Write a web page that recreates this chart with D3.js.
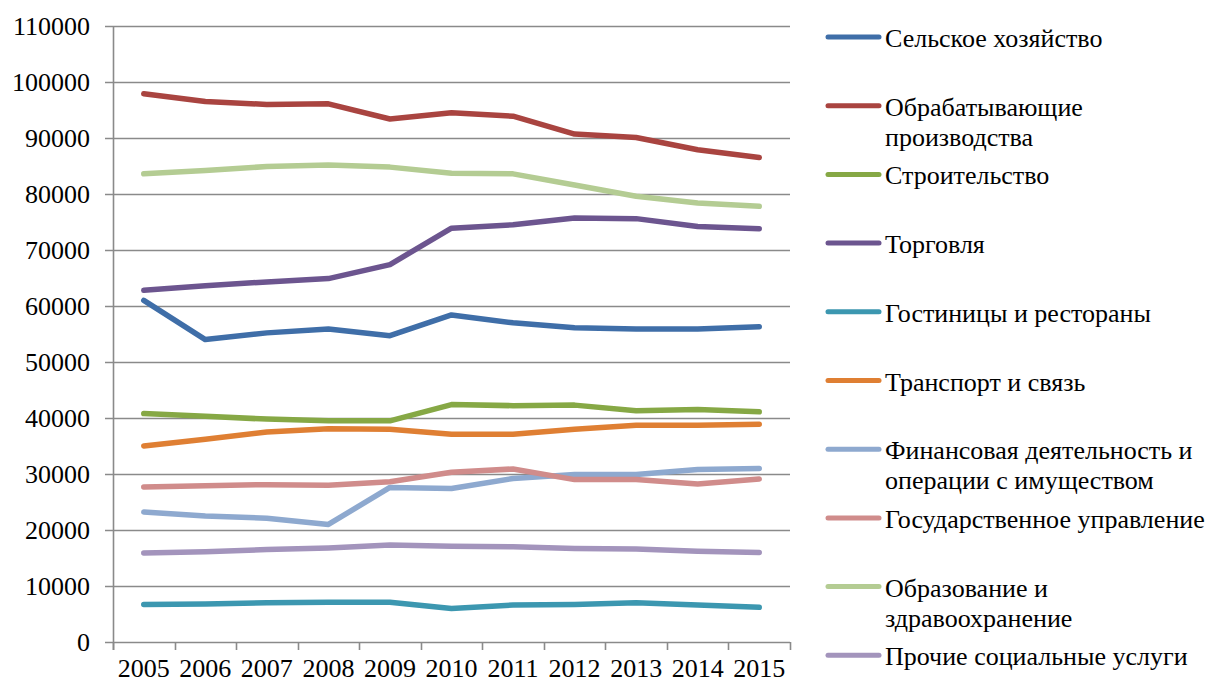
<!DOCTYPE html>
<html>
<head>
<meta charset="utf-8">
<script src="https://cdn.jsdelivr.net/npm/d3@7"></script>
<style>
  body { margin: 0; background: #fff; }
  svg text { font-family: "Liberation Serif", "DejaVu Serif", "Times New Roman", serif; fill: #000; }
</style>
</head>
<body>
<div id="chart"></div>
<script>
// years on the x axis
const years = ['2005','2006','2007','2008','2009','2010','2011','2012','2013','2014','2015'];
const yTicks = [0,10000,20000,30000,40000,50000,60000,70000,80000,90000,100000,110000];

// series names (legend), "\n" marks the legend line break
const seriesNames = [
  'Сельское хозяйство',
  'Обрабатывающие\nпроизводства',
  'Строительство',
  'Торговля',
  'Гостиницы и рестораны',
  'Транспорт и связь',
  'Финансовая деятельность и\nоперации с имуществом',
  'Государственное управление',
  'Образование и\nздравоохранение',
  'Прочие социальные услуги'
];

const agriculture  = [61000, 54000, 55200, 55900, 54700, 58400, 57000, 56100, 55900, 55900, 56300];
const manufacture  = [97900, 96500, 96000, 96100, 93400, 94500, 93900, 90700, 90100, 87900, 86500];
const construction = [40800, 40300, 39800, 39500, 39500, 42400, 42200, 42300, 41300, 41500, 41100];
const trade        = [62800, 63600, 64300, 64900, 67400, 73900, 74500, 75700, 75600, 74200, 73800];
const hotels       = [6700, 6800, 7000, 7100, 7100, 6000, 6600, 6700, 7000, 6600, 6200];
const transport    = [35000, 36200, 37500, 38100, 38000, 37100, 37100, 38000, 38700, 38700, 38900];
const finance      = [23200, 22500, 22100, 21000, 27600, 27400, 29200, 29900, 29900, 30800, 31000];
const government   = [27700, 27900, 28100, 28000, 28600, 30300, 30900, 29000, 29000, 28200, 29100];
const education    = [83600, 84200, 84900, 85200, 84800, 83700, 83600, 81600, 79600, 78400, 77800];
const otherSocial  = [15900, 16100, 16500, 16800, 17300, 17100, 17000, 16700, 16600, 16200, 16000];

const seriesValues = [agriculture, manufacture, construction, trade, hotels,
                      transport, finance, government, education, otherSocial];

const colors = ['#3f6ea8','#a94440','#86a845','#6c558f','#3c97b0',
                '#df7f33','#8ea9cf','#d08c8b','#b4cc93','#a394bc'];

const width = 1217, height = 684;
const plot = {left: 113, right: 790, top: 26, bottom: 642};
const serif = '"Liberation Serif", "DejaVu Serif", "Times New Roman", serif';

const svg = d3.select('#chart').append('svg')
  .attr('width', width)
  .attr('height', height)
  .style('font-family', serif);

const x = d3.scaleBand().domain(years).range([plot.left, plot.right]);
const y = d3.scaleLinear().domain([0, 110000]).range([plot.bottom, plot.top]);

// horizontal gridlines
svg.append('g').attr('class', 'grid')
  .selectAll('line')
  .data(yTicks)
  .join('line')
  .attr('x1', plot.left - 8)
  .attr('x2', plot.right)
  .attr('y1', d => Math.round(y(d)) + 0.5)
  .attr('y2', d => Math.round(y(d)) + 0.5)
  .attr('stroke', '#8a8a8a')
  .attr('stroke-width', 1.6);

// y axis
const yAxis = svg.append('g')
  .attr('transform', `translate(${plot.left},0)`)
  .call(d3.axisLeft(y).tickValues(yTicks).tickSize(0).tickPadding(23).tickFormat(d3.format('d')))
  .attr('font-family', serif)
  .attr('font-size', 26);
yAxis.select('.domain').remove();
yAxis.selectAll('text').attr('dy', '0.34em');

svg.append('line')
  .attr('x1', plot.left + 0.5).attr('x2', plot.left + 0.5)
  .attr('y1', plot.top).attr('y2', plot.bottom + 8)
  .attr('stroke', '#8a8a8a').attr('stroke-width', 1.6);

// x axis, labels centred, ticks between categories
const xAxis = svg.append('g')
  .attr('transform', `translate(0,${plot.bottom})`)
  .call(d3.axisBottom(x).tickSize(0).tickPadding(0))
  .attr('font-family', serif)
  .attr('font-size', 26);
xAxis.select('.domain').remove();
xAxis.selectAll('text')
  .attr('dy', null)
  .attr('y', 35);

const boundaries = years.map(d => x(d)).concat([x.range()[1]]);
svg.append('g')
  .selectAll('line')
  .data(boundaries)
  .join('line')
  .attr('x1', d => Math.round(d) + 0.5)
  .attr('x2', d => Math.round(d) + 0.5)
  .attr('y1', plot.bottom)
  .attr('y2', plot.bottom + 8)
  .attr('stroke', '#8a8a8a')
  .attr('stroke-width', 1.6);

// lines
const line = d3.line()
  .x((d, i) => x(years[i]) + x.bandwidth() / 2)
  .y(d => y(d));

svg.append('g')
  .selectAll('path')
  .data(seriesValues)
  .join('path')
  .attr('d', d => line(d))
  .attr('fill', 'none')
  .attr('stroke', (d, i) => colors[i])
  .attr('stroke-width', 5.5)
  .attr('stroke-linecap', 'round')
  .attr('stroke-linejoin', 'round');

// legend
const legendTop = 37, legendStep = 68.7;
const legend = svg.append('g')
  .selectAll('g')
  .data(seriesNames)
  .join('g')
  .attr('transform', (d, i) => `translate(0,${legendTop + i * legendStep})`);

legend.append('line')
  .attr('x1', 828).attr('x2', 879)
  .attr('y1', 0).attr('y2', 0)
  .attr('stroke', (d, i) => colors[i])
  .attr('stroke-width', 5)
  .attr('stroke-linecap', 'round');

legend.append('text')
  .attr('x', 885)
  .attr('y', 10)
  .attr('font-size', 26)
  .selectAll('tspan')
  .data(d => d.split('\n'))
  .join('tspan')
  .attr('x', 885)
  .attr('dy', (d, i) => i === 0 ? 0 : 30)
  .text(d => d);
</script>
</body>
</html>
